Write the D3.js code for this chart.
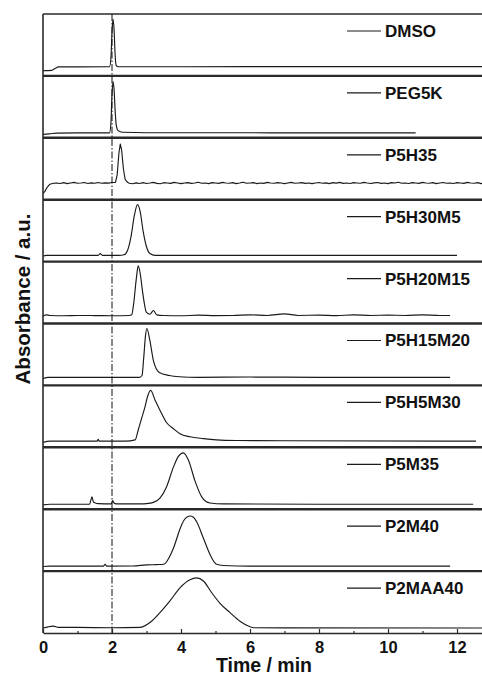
<!DOCTYPE html>
<html>
<head>
<meta charset="utf-8">
<script src="https://cdn.jsdelivr.net/npm/d3@7/dist/d3.min.js"></script>
<style>
  html, body { margin: 0; padding: 0; background: #fff; }
  svg { display: block; font-family: "Liberation Sans", Arial, sans-serif; }
</style>
</head>
<body>
<svg id="chart" width="482" height="675"></svg>
<script>
// Sample names, top to bottom
const samples = ["DMSO", "PEG5K", "P5H35", "P5H30M5", "P5H20M15", "P5H15M20", "P5H5M30", "P5M35", "P2M40", "P2MAA40"];

// Time axis ticks (min)
const majorTicks = [0, 2, 4, 6, 8, 10, 12];
const minorTicks = [1, 3, 5, 7, 9, 11, 13];
const refTime = 2.0;

// Chromatograms: [time (min), normalised absorbance]
const dmso = [[0,0.085],[0.25,0.09],[0.35,0.12],[0.45,0.145],[1.0,0.145],[1.93,0.148],[1.97,0.3],[2.0,0.7],[2.03,0.92],[2.06,0.75],[2.09,0.35],[2.12,0.17],[2.18,0.148],[4,0.148],[8,0.15],[13,0.15]];

const peg5k = [[0,0.055],[0.2,0.065],[0.4,0.075],[1.0,0.08],[1.93,0.08],[1.97,0.25],[2.0,0.7],[2.03,0.91],[2.06,0.78],[2.09,0.45],[2.12,0.22],[2.17,0.12],[2.3,0.09],[3,0.082],[10.8,0.08]];

const p5h35 = [[0,0.1],[0.05,0.13],[0.12,0.2],[0.2,0.25],[0.3,0.265],[0.4,0.27],[0.5,0.262],[0.6,0.275],[0.7,0.26],[0.8,0.27],[0.9,0.28],[1.0,0.265],[1.1,0.27],[1.2,0.277],[1.3,0.262],[1.4,0.272],[1.5,0.266],[1.6,0.278],[1.7,0.265],[1.8,0.272],[1.9,0.268],[2.0,0.278],[2.1,0.28],[2.15,0.4],[2.2,0.75],[2.24,0.9],[2.28,0.8],[2.33,0.5],[2.38,0.33],[2.45,0.28],[2.5,0.265],[2.6,0.258],[2.7,0.272],[2.8,0.262],[2.9,0.275],[3.0,0.262],[3.1,0.27],[3.2,0.28],[3.3,0.263],[3.4,0.258],[3.5,0.275],[3.6,0.27],[3.7,0.263],[3.8,0.28],[3.9,0.27],[4.0,0.26],[4.1,0.27],[4.2,0.276],[4.3,0.264],[4.4,0.27],[4.5,0.282],[4.6,0.265],[4.7,0.27],[4.8,0.26],[4.9,0.276],[5.0,0.27],[5.1,0.264],[5.2,0.28],[5.3,0.27],[5.4,0.265],[5.5,0.276],[5.6,0.26],[5.7,0.27],[5.8,0.282],[5.9,0.265],[6.0,0.27],[6.1,0.276],[6.2,0.26],[6.3,0.27],[6.4,0.264],[6.5,0.28],[6.6,0.27],[6.7,0.265],[6.8,0.276],[6.9,0.27],[7.0,0.26],[7.1,0.27],[7.2,0.28],[7.3,0.265],[7.4,0.27],[7.5,0.276],[7.6,0.264],[7.7,0.27],[7.8,0.26],[7.9,0.27],[8.0,0.278],[8.1,0.266],[8.2,0.272],[8.3,0.26],[8.4,0.275],[8.5,0.268],[8.6,0.28],[8.7,0.264],[8.8,0.27],[8.9,0.262],[9.0,0.276],[9.1,0.27],[9.2,0.265],[9.3,0.28],[9.4,0.27],[9.5,0.262],[9.6,0.272],[9.7,0.278],[9.8,0.264],[9.9,0.27],[10.0,0.26],[10.1,0.275],[10.2,0.27],[10.3,0.282],[10.4,0.266],[10.5,0.27],[10.6,0.262],[10.7,0.276],[10.8,0.27],[10.9,0.264],[11.0,0.28],[11.1,0.27],[11.2,0.265],[11.3,0.275],[11.4,0.26],[11.5,0.27],[11.6,0.278],[11.7,0.265],[11.8,0.27],[11.9,0.262],[12.0,0.276],[12.1,0.27],[12.2,0.264],[12.3,0.28],[12.4,0.27],[12.5,0.265],[12.6,0.275],[12.7,0.26],[12.8,0.27],[12.9,0.278],[13,0.268]];

const p5h30m5 = [[0,0.09],[0.1,0.1],[1.0,0.1],[1.6,0.1],[1.66,0.13],[1.72,0.1],[2.2,0.1],[2.35,0.11],[2.45,0.18],[2.55,0.4],[2.65,0.75],[2.74,0.92],[2.82,0.8],[2.9,0.5],[3.0,0.24],[3.1,0.13],[3.25,0.1],[6,0.1],[12.0,0.1]];

const p5h20m15 = [[0,0.12],[0.1,0.14],[0.2,0.13],[0.6,0.125],[1.0,0.13],[1.5,0.128],[2.0,0.125],[2.5,0.13],[2.57,0.14],[2.63,0.33],[2.7,0.7],[2.76,0.93],[2.82,0.8],[2.88,0.54],[3.0,0.18],[3.1,0.15],[3.2,0.21],[3.3,0.14],[3.5,0.13],[4,0.125],[4.5,0.135],[5,0.128],[5.5,0.13],[6,0.14],[6.5,0.13],[7.0,0.155],[7.4,0.13],[8,0.135],[8.5,0.128],[9,0.14],[9.5,0.13],[10,0.135],[10.5,0.13],[11,0.14],[11.5,0.13],[11.8,0.13]];

const p5h15m20 = [[0,0.11],[0.15,0.13],[1.0,0.13],[2.0,0.13],[2.8,0.13],[2.87,0.16],[2.92,0.45],[2.97,0.8],[3.01,0.92],[3.1,0.72],[3.2,0.4],[3.37,0.21],[3.66,0.16],[3.95,0.14],[4.5,0.13],[6,0.135],[8,0.13],[10,0.13],[11.8,0.13]];

const p5h5m30 = [[0,0.08],[0.2,0.1],[1.0,0.1],[1.57,0.1],[1.6,0.13],[1.63,0.1],[2.4,0.1],[2.67,0.12],[2.76,0.28],[2.86,0.47],[2.96,0.66],[3.02,0.8],[3.12,0.92],[3.25,0.76],[3.39,0.6],[3.58,0.4],[3.78,0.3],[3.97,0.22],[4.26,0.17],[4.65,0.14],[5.03,0.12],[5.61,0.11],[7,0.105],[12.55,0.1]];

const p5m35 = [[0,0.07],[0.2,0.08],[1.0,0.08],[1.35,0.08],[1.39,0.15],[1.42,0.2],[1.46,0.12],[1.52,0.1],[1.6,0.09],[1.98,0.085],[2.02,0.14],[2.06,0.1],[2.12,0.085],[2.8,0.085],[3.0,0.09],[3.2,0.11],[3.39,0.18],[3.58,0.36],[3.78,0.68],[3.92,0.85],[4.07,0.91],[4.21,0.8],[4.41,0.45],[4.6,0.2],[4.84,0.1],[5.23,0.085],[8,0.08],[12.47,0.08]];

const p2m40 = [[0,0.075],[0.2,0.08],[1.0,0.08],[1.75,0.08],[1.8,0.11],[1.85,0.08],[2.6,0.082],[3.0,0.1],[3.3,0.105],[3.49,0.11],[3.78,0.37],[3.97,0.68],[4.02,0.75],[4.14,0.86],[4.26,0.89],[4.36,0.87],[4.45,0.8],[4.65,0.53],[4.84,0.27],[5.03,0.11],[5.22,0.09],[6,0.08],[11.8,0.08]];

const p2maa40 = [[0,0.08],[0.15,0.1],[0.3,0.11],[0.45,0.09],[1.0,0.09],[2.0,0.085],[2.81,0.09],[3.1,0.17],[3.39,0.33],[3.68,0.52],[3.97,0.73],[4.26,0.86],[4.45,0.89],[4.65,0.84],[4.89,0.65],[5.13,0.48],[5.42,0.33],[5.71,0.19],[6.0,0.1],[6.1,0.085],[7,0.082],[13,0.08]];

const traces = [dmso, peg5k, p5h35, p5h30m5, p5h20m15, p5h15m20, p5h5m30, p5m35, p2m40, p2maa40];
// the noisy baseline trace is joined point to point
const linearTraces = ["P5H35"];

// Layout
const plotLeft = 43, plotTop = 14, plotBottom = 633;
const svg = d3.select("#chart");

const x = d3.scaleLinear().domain([0, 13]).range([plotLeft, plotLeft + 13 * 34.5]);
const band = d3.scaleBand().domain(samples).range([plotTop, plotBottom]).paddingInner(0).paddingOuter(0);
const panelH = band.bandwidth();

svg.append("defs").append("clipPath").attr("id", "plotclip")
  .append("rect").attr("x", plotLeft).attr("y", plotTop).attr("width", x(13) - plotLeft).attr("height", plotBottom - plotTop);

samples.forEach((name, i) => {
  const top = band(name);
  const y = d3.scaleLinear().domain([0, 1]).range([top + panelH, top]);
  const g = svg.append("g");

  const line = d3.line()
    .curve(linearTraces.includes(name) ? d3.curveLinear : d3.curveMonotoneX)
    .x(d => x(d[0])).y(d => y(d[1]));
  g.append("path")
    .datum(traces[i])
    .attr("clip-path", "url(#plotclip)")
    .attr("fill", "none")
    .attr("stroke", "#1a1a1a")
    .attr("stroke-width", 1.15)
    .attr("stroke-linejoin", "round")
    .attr("d", line);

  // legend entry
  const ly = top + 17;
  g.append("line").attr("x1", 347).attr("x2", 381).attr("y1", ly).attr("y2", ly)
    .attr("stroke", "#1a1a1a").attr("stroke-width", 1.2);
  g.append("text").attr("x", 385).attr("y", ly).attr("dy", "0.35em")
    .attr("font-size", 17).attr("font-weight", "bold").attr("fill", "#111")
    .text(name);

  // panel separator
  if (i > 0) {
    svg.append("line").attr("x1", plotLeft).attr("x2", 482).attr("y1", top).attr("y2", top)
      .attr("stroke", "#2a2a2a").attr("stroke-width", 2.4);
  }
});

// outer frame: top, left, bottom
svg.append("line").attr("x1", plotLeft).attr("x2", 482).attr("y1", plotTop).attr("y2", plotTop)
  .attr("stroke", "#2a2a2a").attr("stroke-width", 1.6);
svg.append("line").attr("x1", plotLeft).attr("x2", plotLeft).attr("y1", plotTop).attr("y2", plotBottom)
  .attr("stroke", "#2a2a2a").attr("stroke-width", 1.6);

// reference time marker
svg.append("line")
  .attr("x1", x(refTime)).attr("x2", x(refTime))
  .attr("y1", plotTop).attr("y2", plotBottom)
  .attr("stroke", "#111").attr("stroke-width", 1)
  .attr("stroke-dasharray", "7,2,1.5,2");

// bottom axis, ticks pointing inward
const axis = d3.axisBottom(x).tickValues(majorTicks).tickFormat(d3.format("d"))
  .tickSizeInner(-4).tickSizeOuter(0).tickPadding(8);
const ax = svg.append("g").attr("transform", `translate(0,${plotBottom})`).call(axis);
ax.select(".domain").attr("stroke", "#2a2a2a").attr("stroke-width", 1.6);
ax.selectAll(".tick line").attr("stroke", "#2a2a2a").attr("stroke-width", 1.2);
ax.selectAll(".tick text").attr("font-size", 16.5).attr("font-weight", "bold")
  .attr("fill", "#111").attr("font-family", "'Liberation Sans', Arial, sans-serif");

const axMinor = d3.axisBottom(x).tickValues(minorTicks).tickFormat("").tickSizeInner(-2).tickSizeOuter(0);
const axm = svg.append("g").attr("transform", `translate(0,${plotBottom})`).call(axMinor);
axm.select(".domain").remove();
axm.selectAll(".tick line").attr("stroke", "#2a2a2a").attr("stroke-width", 1.2);

// axis titles
svg.append("text").attr("x", 264).attr("y", 672).attr("text-anchor", "middle")
  .attr("font-size", 19.5).attr("font-weight", "bold").attr("fill", "#111")
  .text("Time / min");

svg.append("text").attr("transform", "translate(30,299) rotate(-90)").attr("text-anchor", "middle")
  .attr("font-size", 20.5).attr("font-weight", "bold").attr("fill", "#111")
  .text("Absorbance / a.u.");
</script>
</body>
</html>
